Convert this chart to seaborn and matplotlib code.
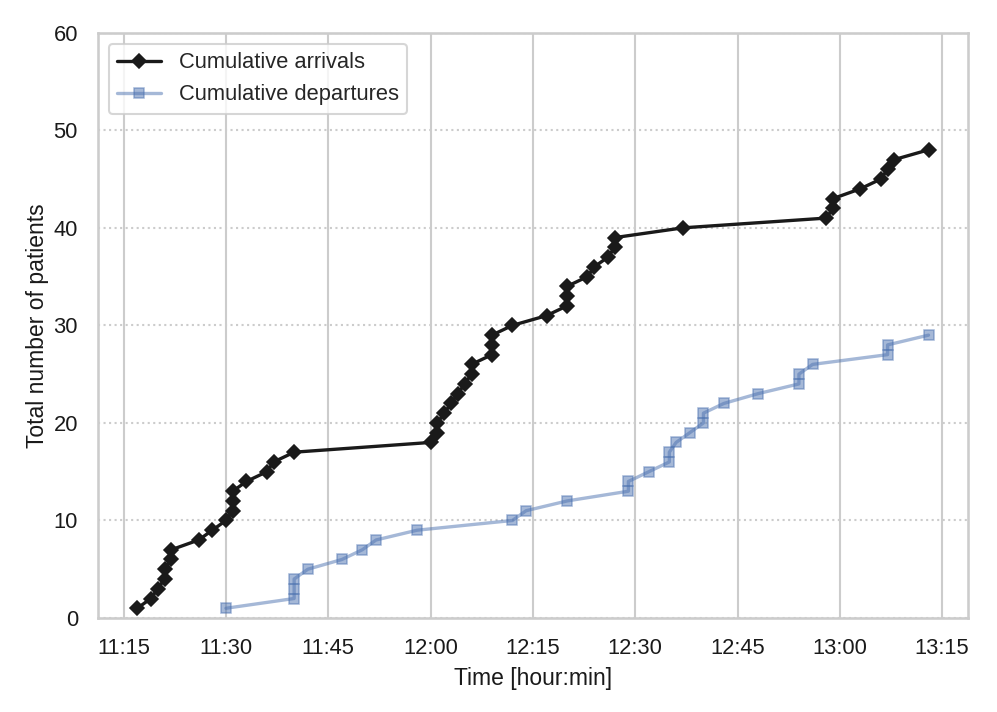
import matplotlib
matplotlib.use("Agg")
import matplotlib.pyplot as plt
import matplotlib.dates as mdates
import pandas as pd
import seaborn as sns

arrival_times = [
    "11:17", "11:19", "11:20", "11:21", "11:21", "11:22", "11:22", "11:26",
    "11:28", "11:30", "11:31", "11:31", "11:31", "11:33", "11:36", "11:37",
    "11:40", "12:00", "12:01", "12:01", "12:02", "12:03", "12:04", "12:05",
    "12:06", "12:06", "12:09", "12:09", "12:09", "12:12", "12:17", "12:20",
    "12:20", "12:20", "12:23", "12:24", "12:26", "12:27", "12:27", "12:37",
    "12:58", "12:59", "12:59", "13:03", "13:06", "13:07", "13:08", "13:13",
]
arrival_counts = list(range(1, 49))

departure_times = [
    "11:30", "11:40", "11:40", "11:40", "11:42", "11:47", "11:50", "11:52",
    "11:58", "12:12", "12:14", "12:20", "12:29", "12:29", "12:32", "12:35",
    "12:35", "12:36", "12:38", "12:40", "12:40", "12:43", "12:48", "12:54",
    "12:54", "12:56", "13:07", "13:07", "13:13",
]
departure_counts = list(range(1, 30))

labels = ["Cumulative arrivals", "Cumulative departures"]

sns.set_theme(style="whitegrid")
plt.rcParams["font.family"] = ["Liberation Sans", "DejaVu Sans"]

def to_dt(ts):
    return pd.to_datetime(["2020-01-01 " + t for t in ts])

arr = pd.DataFrame({"time": to_dt(arrival_times), "count": arrival_counts})
dep = pd.DataFrame({"time": to_dt(departure_times), "count": departure_counts})

fig, ax = plt.subplots(figsize=(997 / 150, 712 / 150), dpi=150)
fig.subplots_adjust(left=0.098, right=0.971, top=0.954, bottom=0.132)

sns.lineplot(data=arr, x="time", y="count", ax=ax, color="k", marker="D",
             markersize=5, linewidth=1.6, label=labels[0], estimator=None,
             sort=False, markeredgecolor="k")
sns.lineplot(data=dep, x="time", y="count", ax=ax, color="#4c72b0", marker="s",
             markersize=5, linewidth=1.6, alpha=0.5, label=labels[1],
             estimator=None, sort=False, markeredgecolor="#4c72b0")

ax.set_ylim(0, 60)
ax.xaxis.set_major_locator(mdates.MinuteLocator(byminute=[0, 15, 30, 45]))
ax.xaxis.set_major_formatter(mdates.DateFormatter("%H:%M"))
ax.grid(axis="y", linestyle=":", linewidth=1.0)
ax.grid(axis="x", linestyle="-", linewidth=1.0)
ax.tick_params(labelsize=10.5, labelcolor="#1a1a1a")
ax.set_xlabel("Time [hour:min]", fontsize=11, color="#1a1a1a")
ax.set_ylabel("Total number of patients", fontsize=11, color="#1a1a1a",
              labelpad=2)
ax.legend(loc="upper left", fontsize=10.5)

fig.savefig("out.png", dpi=150)
